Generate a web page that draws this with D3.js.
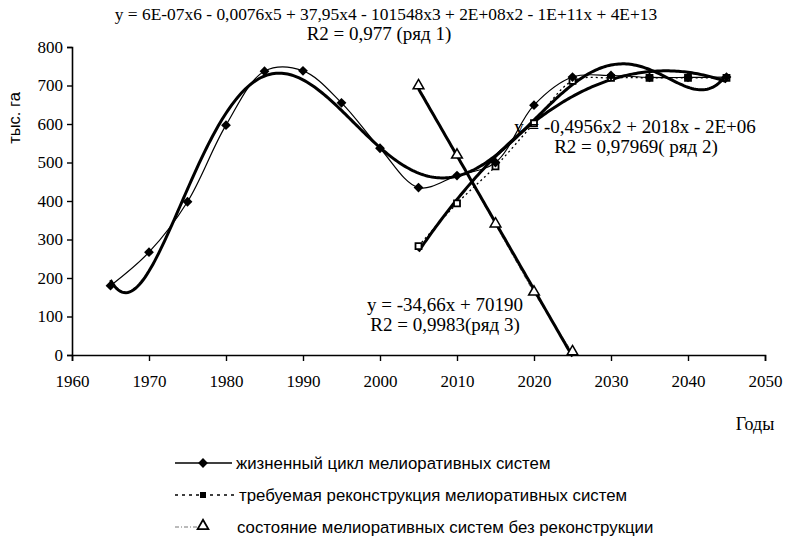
<!DOCTYPE html>
<html>
<head>
<meta charset="utf-8">
<script src="https://cdn.jsdelivr.net/npm/d3@7"></script>
<style>
  body { margin: 0; background: #fff; }
  svg text { fill: #000; }
</style>
</head>
<body>
<svg id="chart" width="786" height="537"></svg>
<script>
// data
var years1 = [1965, 1970, 1975, 1980, 1985, 1990, 1995, 2000, 2005, 2010, 2015, 2020, 2025, 2030, 2035, 2040, 2045];
var cycle = [180, 267, 398, 597, 737, 738, 655, 537, 435, 466, 500, 649, 722, 726, 721, 721, 722];

var years2 = [2005, 2010, 2015, 2020, 2025, 2030, 2035, 2040, 2045];
var rebuild = [283, 394, 490, 602, 712, 720, 720, 720, 720];

var years3 = [2005, 2010, 2015, 2020, 2025];
var noRebuild = [697, 517, 338, 161, 6];

var xTicks = d3.range(1960, 2051, 10);
var yTicks = d3.range(0, 801, 100);

var legendNames = [
  "жизненный цикл мелиоративных систем",
  "требуемая реконструкция мелиоративных систем",
  "состояние мелиоративных систем без реконструкции"
];

var svg = d3.select("#chart");

var x = d3.scaleLinear().domain([1960, 2050]).range([72, 765]);
var y = d3.scaleLinear().domain([0, 800]).range([355, 47]);

// least squares polynomial (x centred so the system stays well behaved)
function polyFit(xs, ys, deg) {
  var c = 2005, s = 40;
  var n = deg + 1;
  var A = [], b = [];
  for (var i = 0; i < n; i++) { A.push(new Array(n).fill(0)); b.push(0); }
  xs.forEach(function(xv, k) {
    var t = (xv - c) / s;
    for (var i = 0; i < n; i++) {
      b[i] += ys[k] * Math.pow(t, i);
      for (var j = 0; j < n; j++) A[i][j] += Math.pow(t, i + j);
    }
  });
  // gauss elimination
  for (var i = 0; i < n; i++) {
    var p = i;
    for (var r = i + 1; r < n; r++) if (Math.abs(A[r][i]) > Math.abs(A[p][i])) p = r;
    var tmp = A[i]; A[i] = A[p]; A[p] = tmp;
    var tb = b[i]; b[i] = b[p]; b[p] = tb;
    for (var r = i + 1; r < n; r++) {
      var f = A[r][i] / A[i][i];
      for (var j = i; j < n; j++) A[r][j] -= f * A[i][j];
      b[r] -= f * b[i];
    }
  }
  var coef = new Array(n).fill(0);
  for (var i = n - 1; i >= 0; i--) {
    var sum = b[i];
    for (var j = i + 1; j < n; j++) sum -= A[i][j] * coef[j];
    coef[i] = sum / A[i][i];
  }
  return function(xv) {
    var t = (xv - c) / s, v = 0;
    for (var i = 0; i < n; i++) v += coef[i] * Math.pow(t, i);
    return v;
  };
}

function trendPoints(xs, ys, deg) {
  var f = polyFit(xs, ys, deg);
  return d3.range(xs[0], xs[xs.length - 1] + 0.01, 0.25).map(function(v) { return [v, f(v)]; });
}

var pairs1 = years1.map(function(d, i) { return [d, cycle[i]]; });
var pairs2 = years2.map(function(d, i) { return [d, rebuild[i]]; });
var pairs3 = years3.map(function(d, i) { return [d, noRebuild[i]]; });

var smooth = d3.line().x(function(d) { return x(d[0]); }).y(function(d) { return y(d[1]); })
  .curve(d3.curveCatmullRom.alpha(0.5));
var straight = d3.line().x(function(d) { return x(d[0]); }).y(function(d) { return y(d[1]); });

// axes
var xAxis = svg.append("g")
  .attr("transform", "translate(0," + y(0) + ")")
  .call(d3.axisBottom(x).tickValues(xTicks).tickSize(6).tickFormat(d3.format("d")));
var yAxis = svg.append("g")
  .attr("transform", "translate(" + x(1960) + ",0)")
  .call(d3.axisLeft(y).tickValues(yTicks).tickSize(5));

[xAxis, yAxis].forEach(function(g) {
  g.attr("font-family", null).attr("font-size", null);
  g.select(".domain").attr("stroke", "#000").attr("stroke-width", 1.6);
  g.selectAll(".tick line").attr("stroke", "#000").attr("stroke-width", 1.4);
  g.selectAll("text")
    .style("font-family", "'Liberation Serif', serif")
    .style("font-size", "17px")
    .attr("fill", "#000");
});
xAxis.selectAll("text").attr("dy", 0).attr("y", 32);
yAxis.selectAll("text").attr("x", -9);

// thin data lines
svg.append("path").datum(pairs3)
  .attr("d", straight).attr("fill", "none")
  .attr("stroke", "#777").attr("stroke-width", 1).attr("stroke-dasharray", "4,2,1,2");
svg.append("path").datum(pairs2)
  .attr("d", smooth).attr("fill", "none")
  .attr("stroke", "#000").attr("stroke-width", 1.3).attr("stroke-dasharray", "2,3");
svg.append("path").datum(pairs1)
  .attr("d", smooth).attr("fill", "none")
  .attr("stroke", "#000").attr("stroke-width", 1.2);

// trend lines
svg.append("path").datum(trendPoints(years1, cycle, 6))
  .attr("d", straight).attr("fill", "none").attr("stroke", "#000").attr("stroke-width", 3);
svg.append("path").datum(trendPoints(years2, rebuild, 2))
  .attr("d", straight).attr("fill", "none").attr("stroke", "#000").attr("stroke-width", 3);
svg.append("path").datum(trendPoints(years3, noRebuild, 1))
  .attr("d", straight).attr("fill", "none").attr("stroke", "#000").attr("stroke-width", 3);

// markers
var diamond = d3.symbol().type(d3.symbolSquare).size(48);
var square = d3.symbol().type(d3.symbolSquare).size(36);
var triangle = d3.symbol().type(d3.symbolTriangle).size(50);

svg.selectAll(".m2").data(pairs2).enter().append("path")
  .attr("d", square)
  .attr("transform", function(d) { return "translate(" + x(d[0]) + "," + y(d[1]) + ")"; })
  .attr("fill", "#fff").attr("stroke", "#000").attr("stroke-width", 1.8);
svg.selectAll(".m3").data(pairs3).enter().append("path")
  .attr("d", triangle)
  .attr("transform", function(d) { return "translate(" + x(d[0]) + "," + (y(d[1]) - 1) + ")"; })
  .attr("fill", "#fff").attr("stroke", "#000").attr("stroke-width", 1.5);
svg.selectAll(".m1").data(pairs1).enter().append("path")
  .attr("d", diamond)
  .attr("transform", function(d) { return "translate(" + x(d[0]) + "," + y(d[1]) + ") rotate(45)"; })
  .attr("fill", "#000");

// equations
var notes = [
  { t: "y = 6E-07x6 - 0,0076x5 + 37,95x4 - 101548x3 + 2E+08x2 - 1E+11x + 4E+13", cx: 386, by: 20, fs: 17.4 },
  { t: "R2 = 0,977 (ряд 1)", cx: 379, by: 40, fs: 19 },
  { t: "y = -0,4956x2 + 2018x - 2E+06", cx: 635, by: 133, fs: 19 },
  { t: "R2 = 0,97969( ряд 2)", cx: 636, by: 153, fs: 19 },
  { t: "y = -34,66x + 70190", cx: 445, by: 311, fs: 19 },
  { t: "R2 = 0,9983(ряд 3)", cx: 445, by: 331, fs: 19 }
];
svg.selectAll(".note").data(notes).enter().append("text")
  .attr("x", function(d) { return d.cx; })
  .attr("y", function(d) { return d.by; })
  .attr("text-anchor", "middle")
  .attr("font-family", "Liberation Serif, serif")
  .attr("font-size", function(d) { return d.fs; })
  .text(function(d) { return d.t; });

// axis titles
svg.append("text")
  .attr("transform", "translate(20,118) rotate(-90)")
  .attr("text-anchor", "middle")
  .attr("font-family", "Liberation Sans, Arial, sans-serif")
  .attr("font-size", 16.5)
  .text("тыс. га");
svg.append("text")
  .attr("x", 755).attr("y", 430)
  .attr("text-anchor", "middle")
  .attr("font-family", "Liberation Serif, serif")
  .attr("font-size", 18)
  .text("Годы");

// legend
var legend = svg.append("g");
var rowsY = [463, 495, 527];
var textX = [236, 239, 237];
legend.append("line").attr("x1", 175).attr("x2", 232).attr("y1", rowsY[0]).attr("y2", rowsY[0])
  .attr("stroke", "#000").attr("stroke-width", 1.6);
legend.append("path").attr("d", diamond).attr("transform", "translate(203," + rowsY[0] + ") rotate(45)").attr("fill", "#000");
legend.append("line").attr("x1", 175).attr("x2", 236).attr("y1", rowsY[1]).attr("y2", rowsY[1])
  .attr("stroke", "#000").attr("stroke-width", 1.3).attr("stroke-dasharray", "3,4");
legend.append("path").attr("d", square).attr("transform", "translate(203," + rowsY[1] + ")").attr("fill", "#000");
legend.append("line").attr("x1", 175).attr("x2", 197).attr("y1", rowsY[2]).attr("y2", rowsY[2])
  .attr("stroke", "#777").attr("stroke-width", 1).attr("stroke-dasharray", "4,2,1,2");
legend.append("path").attr("d", triangle).attr("transform", "translate(203," + (rowsY[2] - 1) + ")")
  .attr("fill", "#fff").attr("stroke", "#000").attr("stroke-width", 1.8);

legend.selectAll(".lt").data(legendNames).enter().append("text")
  .attr("x", function(d, i) { return textX[i]; })
  .attr("y", function(d, i) { return rowsY[i] + 6; })
  .attr("font-family", "Liberation Sans, Arial, sans-serif")
  .attr("font-size", 16.8)
  .text(function(d) { return d; });
</script>
</body>
</html>
